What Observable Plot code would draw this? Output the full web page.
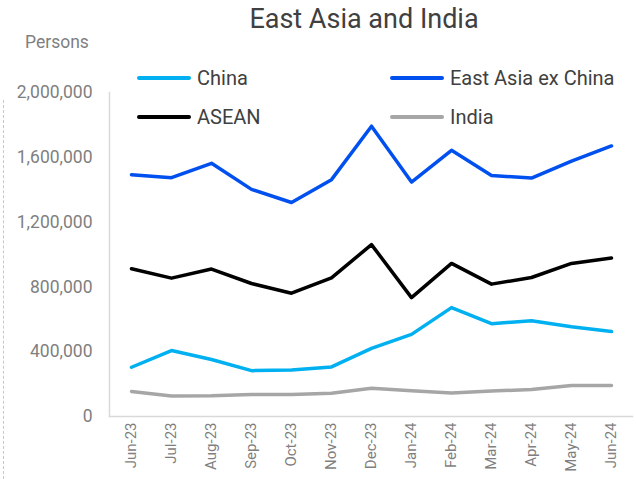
<!DOCTYPE html>
<html>
<head>
<meta charset="utf-8">
<script src="https://cdn.jsdelivr.net/npm/d3@7"></script>
<script src="https://cdn.jsdelivr.net/npm/@observablehq/plot@0.6"></script>
<style>
  html, body { margin: 0; padding: 0; background: #fff; }
  #wrap { position: relative; width: 636px; height: 479px; font-family: Roboto, "Noto Sans", sans-serif; overflow: hidden; }
  #chart { position: absolute; left: 0; top: 0; }
  .title { position: absolute; left: 0; width: 728px; top: 3px; text-align: center; font-size: 27px; color: #404040; }
  .unit { position: absolute; left: 25px; top: 32px; font-size: 17.5px; color: #7f7f7f; }
  .dash { position: absolute; left: 3px; top: 100px; height: 379px; border-left: 1px dashed #c8c8c8; }
  .leg { position: absolute; display: flex; align-items: center; font-size: 20px; color: #404040; height: 24px; }
  .leg span.sw { display: inline-block; width: 54px; height: 4px; border-radius: 2px; margin-right: 6px; }
</style>
</head>
<body>
<div id="wrap">
  <div class="title">East Asia and India</div>
  <div class="unit">Persons</div>
  <div class="dash"></div>
  <div id="chart"></div>
  <div id="legend"></div>
</div>
<script>
const months = ["Jun-23","Jul-23","Aug-23","Sep-23","Oct-23","Nov-23","Dec-23","Jan-24","Feb-24","Mar-24","Apr-24","May-24","Jun-24"];
const seriesNames = ["China","East Asia ex China","ASEAN","India"];
const seriesColors = ["#00b0f0","#0050ef","#000000","#a6a6a6"];
const china = [304000,407000,352000,283000,287000,306000,420000,507000,672000,573000,591000,554000,525000];
const eastAsiaExChina = [1493000,1474000,1563000,1402000,1321000,1462000,1792000,1447000,1643000,1488000,1472000,1577000,1670000];
const asean = [912000,854000,910000,821000,761000,856000,1061000,734000,945000,817000,858000,945000,978000];
const india = [155000,126000,128000,136000,136000,143000,174000,159000,145000,157000,167000,192000,192000];
const yTicks = [0,400000,800000,1200000,1600000,2000000];

const seriesValues = [china, eastAsiaExChina, asean, india];
const data = [];
seriesNames.forEach((s, i) => months.forEach((m, j) => data.push({series: s, month: m, value: seriesValues[i][j]})));

const chart = Plot.plot({
  width: 636,
  height: 479,
  marginTop: 92,
  marginBottom: 63,
  marginLeft: 109,
  marginRight: 4,
  style: {fontFamily: "Roboto, 'Noto Sans', sans-serif", color: "#7f7f7f", background: "transparent"},
  x: {type: "point", domain: months, padding: 0.5, label: null},
  y: {domain: [0, 2000000], label: null},
  color: {domain: seriesNames, range: seriesColors},
  marks: [
    Plot.frame({anchor: "left", stroke: "#d9d9d9", strokeWidth: 1.5, strokeOpacity: 1}),
    Plot.frame({anchor: "bottom", stroke: "#d9d9d9", strokeWidth: 1.5, strokeOpacity: 1}),
    Plot.axisY({ticks: yTicks, tickSize: 0, tickPadding: 17, fontSize: 17.5, tickFormat: d3.format(","), label: null}),
    Plot.axisX({tickSize: 0, tickPadding: 6, tickRotate: -90, fontSize: 15, label: null}),
    Plot.line(data, {x: "month", y: "value", z: "series", stroke: "series", strokeWidth: 3.5, strokeLinejoin: "round", strokeLinecap: "round"})
  ]
});
document.getElementById("chart").appendChild(chart);

const legendPos = [[137, 66], [390, 66], [137, 105], [390, 105]];
const legend = document.getElementById("legend");
seriesNames.forEach((s, i) => {
  const d = document.createElement("div");
  d.className = "leg";
  d.style.left = legendPos[i][0] + "px";
  d.style.top = legendPos[i][1] + "px";
  d.innerHTML = `<span class="sw" style="background:${seriesColors[i]}"></span>${s}`;
  legend.appendChild(d);
});
</script>
</body>
</html>
